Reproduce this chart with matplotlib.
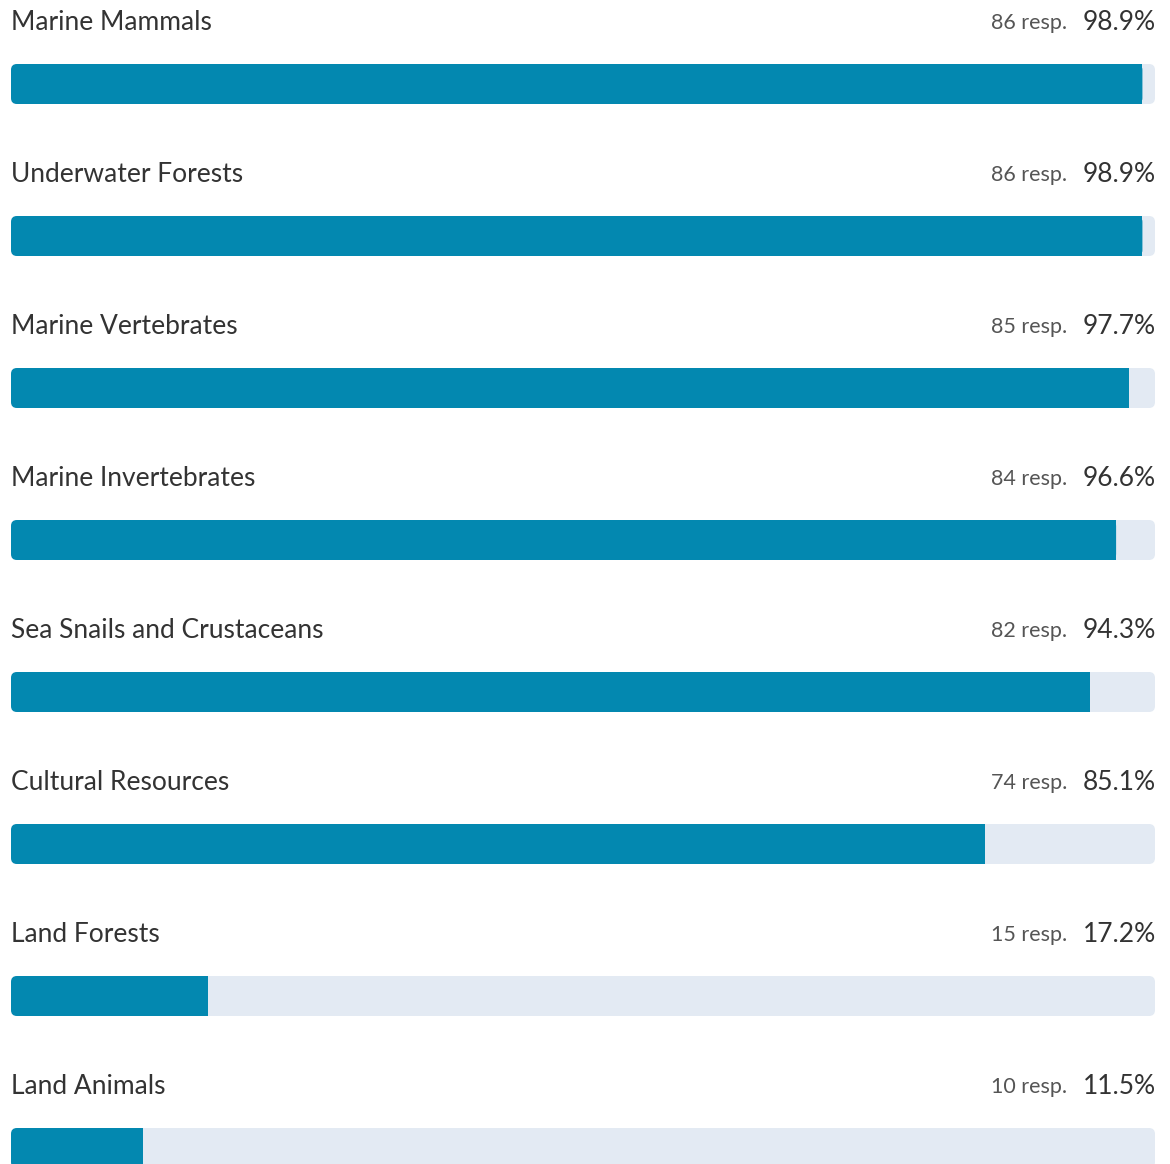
import matplotlib.pyplot as plt
from matplotlib.patches import FancyBboxPatch, Rectangle

categories = ["Marine Mammals", "Underwater Forests", "Marine Vertebrates",
              "Marine Invertebrates", "Sea Snails and Crustaceans",
              "Cultural Resources", "Land Forests", "Land Animals"]
responses = [86, 86, 85, 84, 82, 74, 15, 10]
percents = [98.9, 98.9, 97.7, 96.6, 94.3, 85.1, 17.2, 11.5]

bar_color = "#0388B0"
track_color = "#E3EAF3"
text_color = "#333333"

plt.rcParams['font.family'] = ['Lato', 'DejaVu Sans']

fig = plt.figure(figsize=(11.70, 11.64), dpi=100)
ax = fig.add_axes([0, 0, 1, 1])

# pixel scale: x 0..100 -> px 11..1155, row pitch 152 px
px_x = 1144 / 100
px_y = 152
ax.set_xlim(-11 / px_x, (1170 - 11) / px_x)
ax.set_ylim((1164 - 84) / px_y, -84 / px_y)
ax.axis("off")

bar_h = 40 / px_y
r = 6 / px_x
aspect = px_x / px_y

for i, (cat, n, p) in enumerate(zip(categories, responses, percents)):
    y0 = i - bar_h / 2
    # background track
    ax.add_patch(FancyBboxPatch((0, y0), 100, bar_h,
                                boxstyle=f"round,pad=0,rounding_size={r}",
                                mutation_aspect=aspect, fc=track_color, ec="none"))
    # filled part: rounded left, square right
    ax.add_patch(FancyBboxPatch((0, y0), p, bar_h,
                                boxstyle=f"round,pad=0,rounding_size={r}",
                                mutation_aspect=aspect, fc=bar_color, ec="none"))
    ax.add_patch(Rectangle((p - 2 * r, y0), 2 * r, bar_h, fc=bar_color, ec="none"))

    ty = i - 61 / px_y
    ax.text(0, ty, cat, ha="left", va="center", fontsize=19, color=text_color)
    ax.text(100.1, ty, f"{p:.1f}%", ha="right", va="center", fontsize=19, color=text_color)
    ax.text(92.3, ty, f"{n} resp.", ha="right", va="center", fontsize=15.5, color="#555555")

fig.savefig("out.png", dpi=100)
